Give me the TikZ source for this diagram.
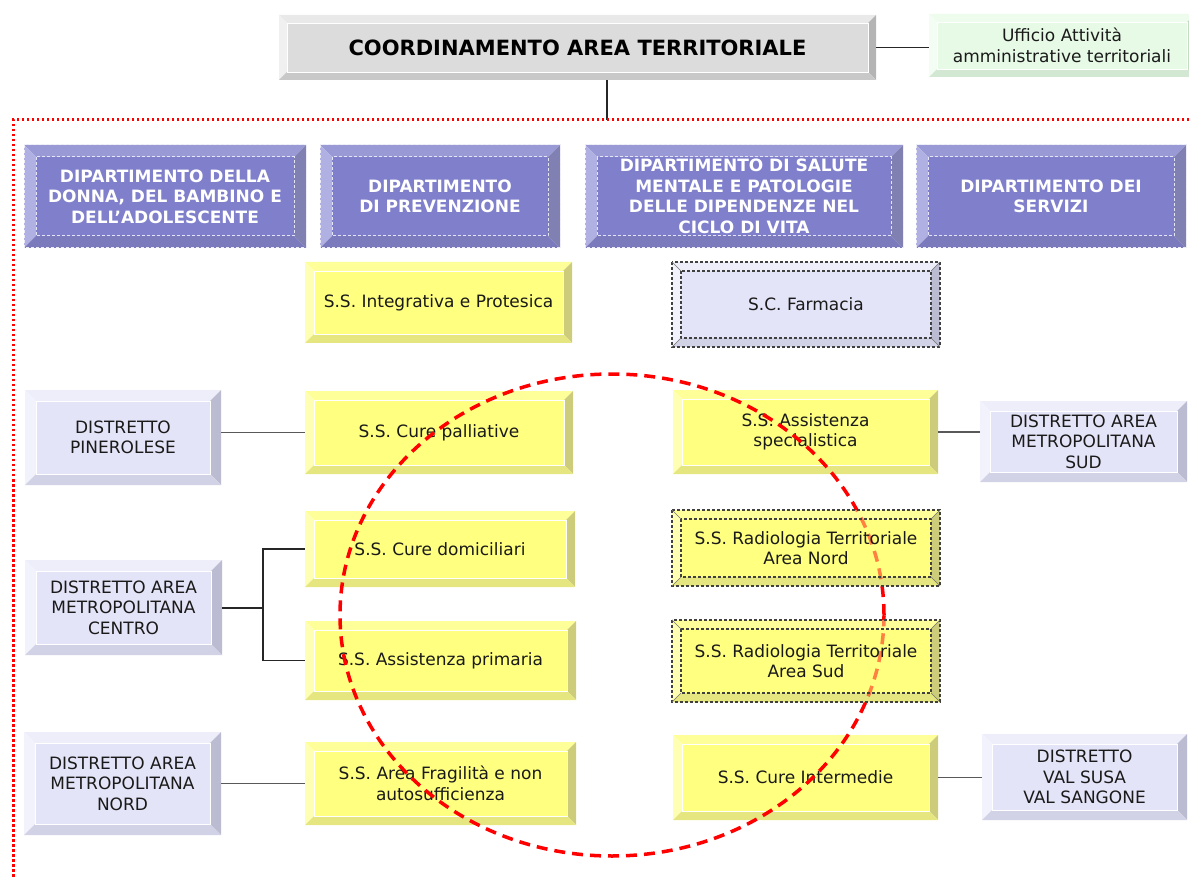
\documentclass[tikz,border=0pt]{standalone}
\usepackage{fontspec}
\setmainfont{DejaVu Sans}
\definecolor{grF}{HTML}{DCDCDC}\definecolor{grT}{HTML}{E9E9E9}\definecolor{grL}{HTML}{F0F0F0}\definecolor{grR}{HTML}{B4B4B4}\definecolor{grB}{HTML}{C8C8C8}
\definecolor{gnF}{HTML}{E6FAE6}\definecolor{gnT}{HTML}{EEFCEE}\definecolor{gnL}{HTML}{F3FDF3}\definecolor{gnR}{HTML}{C4DCC4}\definecolor{gnB}{HTML}{D2E8D2}
\definecolor{yeF}{HTML}{FFFF80}\definecolor{yeT}{HTML}{FFFF99}\definecolor{yeL}{HTML}{FFFFB3}\definecolor{yeR}{HTML}{CCCC7A}\definecolor{yeB}{HTML}{E6E680}
\definecolor{lvF}{HTML}{E4E4F8}\definecolor{lvT}{HTML}{EEEEFB}\definecolor{lvL}{HTML}{F2F2FC}\definecolor{lvR}{HTML}{BBBBD2}\definecolor{lvB}{HTML}{D2D2E6}
\definecolor{dpF}{HTML}{7F7FCC}\definecolor{dpT}{HTML}{9999D6}\definecolor{dpL}{HTML}{B0B0E2}\definecolor{dpR}{HTML}{8080B2}\definecolor{dpB}{HTML}{7A7ABC}
\definecolor{txtc}{HTML}{1A1A1A}
% x1,y1,x2,y2,w,prefix
\newcommand{\bevel}[6]{%
  \fill[#6T] (#1,#2) -- (#3,#2) -- ({#3-#5},{#2+#5}) -- ({#1+#5},{#2+#5}) -- cycle;
  \fill[#6L] (#1,#2) -- ({#1+#5},{#2+#5}) -- ({#1+#5},{#4-#5}) -- (#1,#4) -- cycle;
  \fill[#6R] (#3,#2) -- (#3,#4) -- ({#3-#5},{#4-#5}) -- ({#3-#5},{#2+#5}) -- cycle;
  \fill[#6B] (#1,#4) -- ({#1+#5},{#4-#5}) -- ({#3-#5},{#4-#5}) -- (#3,#4) -- cycle;
  \fill[#6F] ({#1+#5},{#2+#5}) rectangle ({#3-#5},{#4-#5});
}
\newcommand{\hilite}[5]{%
  \draw[white, line width=0.8pt] ({#1+#5},{#2+#5}) rectangle ({#3-#5},{#4-#5});
}
\newcommand{\dashb}[5]{%
  \draw[dbord] (#1,#2) rectangle (#3,#4);
  \draw[dbord] ({#1+#5},{#2+#5}) rectangle ({#3-#5},{#4-#5});
  \draw[black!55, line width=0.6pt] (#1,#2) -- ({#1+#5},{#2+#5}) (#3,#2) -- ({#3-#5},{#2+#5})
     (#1,#4) -- ({#1+#5},{#4-#5}) (#3,#4) -- ({#3-#5},{#4-#5});
}
\newcommand{\deptb}[4]{%
  \bevel{#1}{#2}{#3}{#4}{12}{dp}
  \draw[white!85!dpF, line width=1pt, dash pattern=on 3pt off 2pt] (#1,#2) rectangle (#3,#4);
  \draw[white!80!dpF, line width=1pt, dash pattern=on 3pt off 2pt] ({#1+12},{#2+12}) rectangle ({#3-12},{#4-12});
}
% name,x1,y1,x2,y2,style,text
\newcommand{\bnode}[7]{%
  \node[#6, inner sep=0pt, minimum width={#4pt-#2pt}, minimum height={#5pt-#3pt}] (#1) at ({(#2+#4)/2},{(#3+#5)/2}) {#7};
}
\begin{document}
\begin{tikzpicture}[x=1pt,y=-1pt,
  txt/.style={font=\fontsize{17}{20.5}\selectfont, text=txtc, align=center},
  dtxt/.style={font=\bfseries\fontsize{17}{20.5}\selectfont, text=white, align=center},
  ttl/.style={font=\bfseries\fontsize{21}{25}\selectfont, text=black, align=center},
  conn/.style={draw=black!65, line width=1.3pt},
  dbord/.style={draw=black!75, line width=1.1pt, dash pattern=on 3pt off 2pt},
  reddot/.style={draw=red, line width=3pt, dash pattern=on 2.5pt off 2.5pt},
  redcirc/.style={draw=red, line width=3.5pt, dash pattern=on 11pt off 7pt},
]
\useasboundingbox (0,0) rectangle (1189,877);

% ---------- box bodies ----------
\bevel{279}{15}{876}{80}{8}{gr}\hilite{279}{15}{876}{80}{8}
\bevel{929}{14}{1195}{77}{8}{gn}\hilite{929}{14}{1195}{77}{8}

\deptb{24}{145}{306}{248}
\deptb{320}{145}{560}{248}
\deptb{585}{145}{903}{248}
\deptb{916}{145}{1186}{248}

\bevel{305}{262}{572}{343}{9}{ye}\hilite{305}{262}{572}{343}{9}
\bevel{672}{262}{940}{347}{9}{lv}\dashb{672}{262}{940}{347}{9}

\bevel{25}{390}{221}{485}{11}{lv}\hilite{25}{390}{221}{485}{11}
\bevel{305}{391}{573}{474}{9}{ye}\hilite{305}{391}{573}{474}{9}
\bevel{673}{390}{938}{474}{9}{ye}\hilite{673}{390}{938}{474}{9}
\bevel{980}{401}{1187}{482}{10}{lv}\hilite{980}{401}{1187}{482}{10}

\bevel{305}{511}{575}{587}{9}{ye}\hilite{305}{511}{575}{587}{9}
\bevel{672}{510}{940}{586}{9}{ye}
\bevel{25}{560}{222}{655}{11}{lv}\hilite{25}{560}{222}{655}{11}
\bevel{305}{621}{576}{700}{9}{ye}\hilite{305}{621}{576}{700}{9}
\bevel{672}{620}{940}{702}{9}{ye}

\bevel{24}{732}{221}{835}{11}{lv}\hilite{24}{732}{221}{835}{11}
\bevel{305}{742}{576}{825}{9}{ye}\hilite{305}{742}{576}{825}{9}
\bevel{673}{735}{938}{820}{9}{ye}\hilite{673}{735}{938}{820}{9}
\bevel{982}{734}{1187}{820}{10}{lv}\hilite{982}{734}{1187}{820}{10}

% ---------- nodes ----------
\bnode{top}{279}{15}{876}{80}{ttl}{COORDINAMENTO AREA TERRITORIALE}
\bnode{uff}{929}{14}{1195}{77}{txt}{Ufficio Attività\\amministrative territoriali}

\bnode{d1}{24}{145}{306}{248}{dtxt}{DIPARTIMENTO DELLA\\DONNA, DEL BAMBINO E\\DELL’ADOLESCENTE}
\bnode{d2}{320}{145}{560}{248}{dtxt}{DIPARTIMENTO\\DI PREVENZIONE}
\bnode{d3}{585}{145}{903}{248}{dtxt}{DIPARTIMENTO DI SALUTE\\MENTALE E PATOLOGIE\\DELLE DIPENDENZE NEL\\CICLO DI VITA}
\bnode{d4}{916}{145}{1186}{248}{dtxt}{DIPARTIMENTO DEI\\SERVIZI}

\bnode{int}{305}{262}{572}{343}{txt}{S.S. Integrativa e Protesica}
\bnode{far}{672}{262}{940}{347}{txt}{S.C. Farmacia}

\bnode{pin}{25}{390}{221}{485}{txt}{DISTRETTO\\PINEROLESE}
\bnode{pal}{305}{391}{573}{474}{txt}{S.S. Cure palliative}
\bnode{spe}{673}{390}{938}{474}{txt}{S.S. Assistenza\\specialistica}
\bnode{sud}{980}{401}{1187}{482}{txt}{DISTRETTO AREA\\METROPOLITANA\\SUD}

\bnode{dom}{305}{511}{575}{587}{txt}{S.S. Cure domiciliari}
\bnode{cen}{25}{560}{222}{655}{txt}{DISTRETTO AREA\\METROPOLITANA\\CENTRO}
\bnode{pri}{305}{621}{576}{700}{txt}{S.S. Assistenza primaria}

\bnode{nor}{24}{732}{221}{835}{txt}{DISTRETTO AREA\\METROPOLITANA\\NORD}
\bnode{fra}{305}{742}{576}{825}{txt}{S.S. Area Fragilità e non\\autosufficienza}
\bnode{ci}{673}{735}{938}{820}{txt}{S.S. Cure Intermedie}
\bnode{vs}{982}{734}{1187}{820}{txt}{DISTRETTO\\VAL SUSA\\VAL SANGONE}

% ---------- connectors ----------
\coordinate (dl) at (607,120);
\coordinate (jx) at (263,608);
\draw[conn, draw=black!85] (top.east) -- (top.east -| uff.west);
\draw[conn, draw=black!85] (top.south -| dl) -- (dl);
\draw[conn] (pal.west -| pin.east) -- (pal.west);
\draw[conn] (spe.east) -- (spe.east -| sud.west);
\draw[conn, draw=black!85, line width=2pt] (cen.east) -- (cen.east -| jx);
\draw[conn, draw=black!85, line width=1.1pt] (dom.west) -- (dom.west -| jx) -- (pri.west -| jx) -- (pri.west);
\draw[conn] (nor.east |- fra.west) -- (fra.west);
\draw[conn] (ci.east) -- (ci.east -| vs.west);

% red dotted frame
\draw[reddot] (1189,120) -- (13,120) -- (13,877);

% red dashed ellipse
\draw[redcirc] (612,615) ellipse [x radius=272pt, y radius=241pt];

% ---------- semi-transparent radiologia boxes over the ellipse ----------
\begin{scope}[fill opacity=0.5]
\bevel{672}{510}{940}{586}{9}{ye}
\bevel{672}{620}{940}{702}{9}{ye}
\end{scope}
\dashb{672}{510}{940}{586}{9}
\dashb{672}{620}{940}{702}{9}
\bnode{rn}{672}{510}{940}{586}{txt}{S.S. Radiologia Territoriale\\Area Nord}
\bnode{rs}{672}{620}{940}{702}{txt}{S.S. Radiologia Territoriale\\Area Sud}
\end{tikzpicture}
\end{document}
